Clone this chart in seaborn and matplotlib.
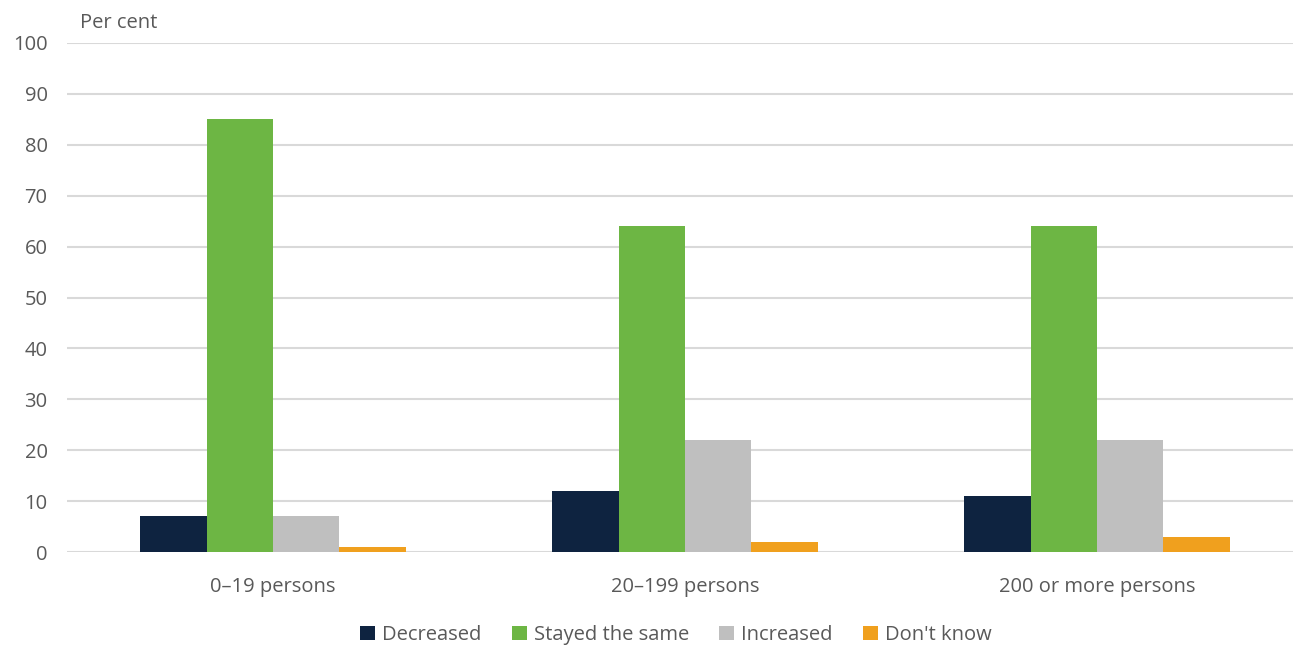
import matplotlib
matplotlib.use('Agg')

import matplotlib.pyplot as plt
import pandas as pd
import seaborn as sns

# data
groups = ['0–19 persons', '20–199 persons', '200 or more persons']
responses = ['Decreased', 'Stayed the same', 'Increased', "Don't know"]
decreased = [7, 12, 11]
stayed_same = [85, 64, 64]
increased = [7, 22, 22]
dont_know = [1, 2, 3]

colours = ['#0e2340', '#6db644', '#bfbfbf', '#f0a01e']

rows = []
for resp, vals in zip(responses, [decreased, stayed_same, increased, dont_know]):
    for g, v in zip(groups, vals):
        rows.append({'group': g, 'response': resp, 'value': v})
df = pd.DataFrame(rows)

sns.set_style("white")
plt.rcParams['font.family'] = ['Open Sans', 'DejaVu Sans']
text_col = '#595959'
fs = 14.5

fig = plt.figure(figsize=(12.93, 6.46), dpi=100)
ax = fig.add_axes([67 / 1293, 1 - 552 / 646, 1236 / 1293, (552 - 43) / 646])

sns.barplot(data=df, x='group', y='value', hue='response', hue_order=responses,
            palette=colours, width=0.645, ax=ax, edgecolor='none', linewidth=0,
            saturation=1, legend=True)

ax.set_ylim(0, 100)
ax.set_xlim(-0.5, 2.5)
ax.set_yticks(range(0, 101, 10))
ax.yaxis.grid(True, color='#d9d9d9', linewidth=1.5)
ax.set_axisbelow(True)
for s in ax.spines.values():
    s.set_visible(False)
ax.tick_params(axis='both', length=0, labelsize=fs, colors=text_col)
ax.tick_params(axis='y', pad=14)
ax.tick_params(axis='x', pad=18)
ax.set_xlabel('')
ax.set_ylabel('')

fig.text(80 / 1293, 1 - 23 / 646, 'Per cent', fontsize=fs, color=text_col,
         va='center', ha='left')

handles, labels = ax.get_legend_handles_labels()
ax.legend(handles, labels, loc='center', bbox_to_anchor=(676 / 1293, 1 - 635 / 646),
          bbox_transform=fig.transFigure, ncol=4, frameon=False, fontsize=fs,
          labelcolor=text_col, handlelength=0.75, handleheight=0.75,
          handletextpad=0.35, columnspacing=1.5)

plt.savefig('out.png', dpi=100)
plt.close(fig)
